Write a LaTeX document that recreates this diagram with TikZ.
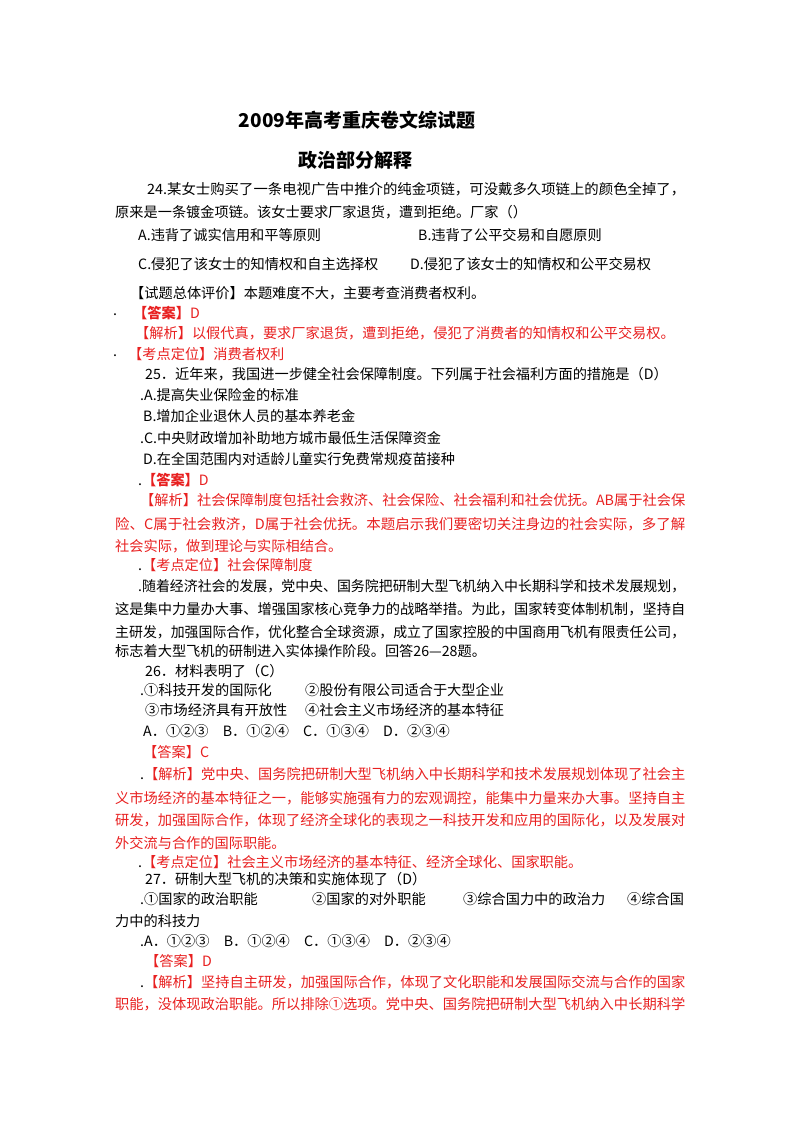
\documentclass[tikz,border=0pt]{standalone}
\usepackage{fontspec}
\usepackage{graphicx}
\setmainfont{Noto Sans CJK SC}
\newfontfamily\cjk{Noto Sans CJK SC}
\definecolor{ans}{RGB}{232,32,32}
\newcommand{\full}[1]{\resizebox{570pt}{\height}{#1}}
\begin{document}
\begin{tikzpicture}[x=1pt,y=-1pt,
  t/.style={anchor=west,inner sep=0pt,font=\cjk\fontsize{14.2}{16}\selectfont},
  r/.style={t,text=ans},
  h/.style={anchor=center,inner sep=0pt,font=\cjk\bfseries\fontsize{19}{22}\selectfont}]
\useasboundingbox (0,0) rectangle (800,1132);
\node[h] (title) at (357,120) {2009年高考重庆卷文综试题};
\node[h] (sub) at (355,160) {政治部分解释};
\node[t] (q24a) at (147,189) {\resizebox{538pt}{\height}{24.某女士购买了一条电视广告中推介的纯金项链，可没戴多久项链上的颜色全掉了，}};
\node[t] (q24b) at (115,212) {原来是一条镀金项链。该女士要求厂家退货，遭到拒绝。厂家（）};
\node[t] (q24A) at (138,235) {A.违背了诚实信用和平等原则};
\node[t] (q24B) at (418,235) {B.违背了公平交易和自愿原则};
\node[t] (q24C) at (138,264) {C.侵犯了该女士的知情权和自主选择权};
\node[t] (q24D) at (410,264) {D.侵犯了该女士的知情权和公平交易权};
\node[t] (e24) at (130,293) {【试题总体评价】本题难度不大，主要考查消费者权利。};
\node[t] (d1) at (113,315) {.};
\node[r] (a24) at (133,313) {\textbf{【答案】}D};
\node[r] (j24) at (135,333) {【解析】以假代真，要求厂家退货，遭到拒绝，侵犯了消费者的知情权和公平交易权。};
\node[t] (d2) at (113,356) {.};
\node[r] (k24) at (128,354) {【考点定位】消费者权利};
\node[t] (q25) at (145,374) {25．近年来，我国进一步健全社会保障制度。下列属于社会福利方面的措施是（D）};
\node[t] (q25A) at (140,395) {.A.提高失业保险金的标准};
\node[t] (q25B) at (143,416) {B.增加企业退休人员的基本养老金};
\node[t] (q25C) at (140,438) {.C.中央财政增加补助地方城市最低生活保障资金};
\node[t] (q25D) at (143,459) {D.在全国范围内对适龄儿童实行免费常规疫苗接种};
\node[r] (a25) at (138,480) {\textcolor{black}{.}\textbf{【答案】}D};
\node[r] (j25a) at (140,500) {\resizebox{545pt}{\height}{【解析】社会保障制度包括社会救济、社会保险、社会福利和社会优抚。AB属于社会保}};
\node[r] (j25b) at (115,524) {\full{险、C属于社会救济，D属于社会优抚。本题启示我们要密切关注身边的社会实际，多了解}};
\node[r] (j25c) at (115,546) {社会实际，做到理论与实际相结合。};
\node[r] (k25) at (138,565) {\textcolor{black}{.}【考点定位】社会保障制度};
\node[t] (m1) at (138,586) {\resizebox{547pt}{\height}{.随着经济社会的发展，党中央、国务院把研制大型飞机纳入中长期科学和技术发展规划，}};
\node[t] (m2) at (115,609) {\full{这是集中力量办大事、增强国家核心竞争力的战略举措。为此，国家转变体制机制，坚持自}};
\node[t] (m3) at (115,632) {\full{主研发，加强国际合作，优化整合全球资源，成立了国家控股的中国商用飞机有限责任公司，}};
\node[t] (m4) at (115,651) {标志着大型飞机的研制进入实体操作阶段。回答26—28题。};
\node[t] (q26) at (145,671) {26．材料表明了（C）};
\node[t] (q26a) at (140,690) {.①科技开发的国际化};
\node[t] (q26b) at (305,690) {②股份有限公司适合于大型企业};
\node[t] (q26c) at (145,710) {③市场经济具有开放性};
\node[t] (q26d) at (305,710) {④社会主义市场经济的基本特征};
\node[t] (q26o) at (143,731) {A．①②③\quad B．①②④\quad C．①③④\quad D．②③④};
\node[r] (a26) at (143,752) {【答案】C};
\node[r] (j26a) at (140,774) {\resizebox{545pt}{\height}{\textcolor{black}{.}【解析】党中央、国务院把研制大型飞机纳入中长期科学和技术发展规划体现了社会主}};
\node[r] (j26b) at (115,798) {\full{义市场经济的基本特征之一，能够实施强有力的宏观调控，能集中力量来办大事。坚持自主}};
\node[r] (j26c) at (115,820) {\full{研发，加强国际合作，体现了经济全球化的表现之一科技开发和应用的国际化，以及发展对}};
\node[r] (j26d) at (115,843) {外交流与合作的国际职能。};
\node[r] (k26) at (138,862) {\textcolor{black}{.}【考点定位】社会主义市场经济的基本特征、经济全球化、国家职能。};
\node[t] (q27) at (145,879) {27．研制大型飞机的决策和实施体现了（D）};
\node[t] (q27a) at (140,899) {.①国家的政治职能};
\node[t] (q27b) at (312,899) {②国家的对外职能};
\node[t] (q27c) at (463,899) {③综合国力中的政治力};
\node[t] (q27d) at (627,899) {④综合国};
\node[t] (q27e) at (115,921) {力中的科技力};
\node[t] (q27o) at (140,941) {.A．①②③\quad B．①②④\quad C．①③④\quad D．②③④};
\node[r] (a27) at (145,961) {【答案】D};
\node[r] (j27a) at (140,982) {\resizebox{545pt}{\height}{\textcolor{black}{.}【解析】坚持自主研发，加强国际合作，体现了文化职能和发展国际交流与合作的国家}};
\node[r] (j27b) at (115,1004) {\full{职能，没体现政治职能。所以排除①选项。党中央、国务院把研制大型飞机纳入中长期科学}};
\end{tikzpicture}
\end{document}
